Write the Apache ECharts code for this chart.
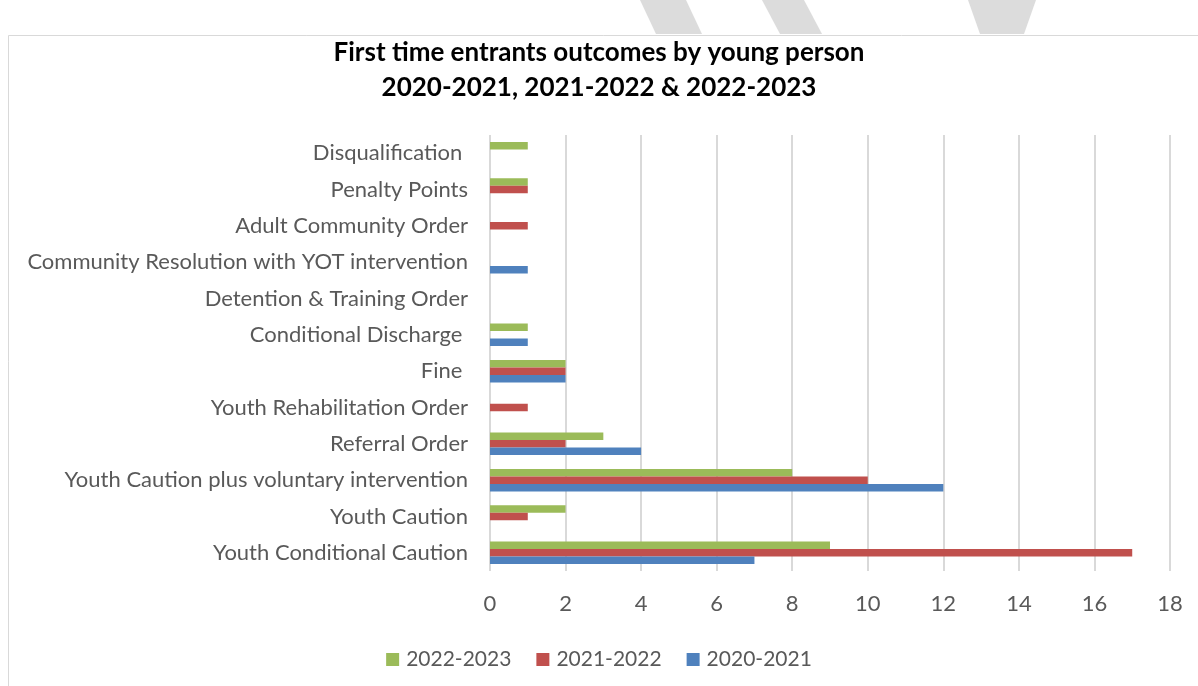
<!DOCTYPE html>
<html>
<head>
<meta charset="utf-8">
<script src="https://cdn.jsdelivr.net/npm/echarts@6/dist/echarts.min.js"></script>
<style>html,body{margin:0;padding:0;background:#fff;}#chart{width:1198px;height:686px;}</style>
</head>
<body>
<div id="chart"></div>
<script>
// categories listed bottom to top
var categories = [
  'Youth Conditional Caution',
  'Youth Caution',
  'Youth Caution plus voluntary intervention',
  'Referral Order',
  'Youth Rehabilitation Order',
  'Fine ',
  'Conditional Discharge ',
  'Detention & Training Order',
  'Community Resolution with YOT intervention',
  'Adult Community Order',
  'Penalty Points',
  'Disqualification '
];
var s2020 = [7, 0, 12, 4, 0, 2, 1, 0, 1, 0, 0, 0];
var s2021 = [17, 1, 10, 2, 1, 2, 0, 0, 0, 1, 1, 0];
var s2022 = [9, 2, 8, 3, 0, 2, 1, 0, 0, 0, 1, 1];
var xTicks = [0, 2, 4, 6, 8, 10, 12, 14, 16, 18];

var font = 'Lato';
var chart = echarts.init(document.getElementById('chart'));
chart.setOption({
  backgroundColor: '#fff',
  textStyle: { fontFamily: font },
  graphic: [
    { type: 'polygon', shape: { points: [[640,0],[686,0],[702,34],[656,34]] }, style: { fill: '#DCDCDC' }, silent: true },
    { type: 'polygon', shape: { points: [[762,0],[804,0],[822,34],[780,34]] }, style: { fill: '#DCDCDC' }, silent: true },
    { type: 'polygon', shape: { points: [[968,0],[1036,0],[1024,34],[980,34]] }, style: { fill: '#DCDCDC' }, silent: true },
    { type: 'rect', shape: { x: 8.5, y: 35.5, width: 1200, height: 700 }, style: { fill: 'none', stroke: '#D9D9D9', lineWidth: 1 }, silent: true }
  ],
  title: {
    text: 'First time entrants outcomes by young person\n2020-2021, 2021-2022 & 2022-2023',
    left: 'center',
    top: 30,
    textStyle: { fontFamily: font, fontSize: 26, fontWeight: 'bold', color: '#000', lineHeight: 35 }
  },
  legend: {
    data: ['2022-2023', '2021-2022', '2020-2021'],
    top: 644,
    left: 'center',
    itemWidth: 13,
    itemHeight: 13,
    itemGap: 25,
    icon: 'rect',
    textStyle: { fontFamily: font, fontSize: 21, color: '#595959', padding: [0, 0, 0, 2] }
  },
  grid: { left: 490, right: 28, top: 135, bottom: 115, containLabel: false },
  xAxis: {
    type: 'value',
    min: 0, max: 18, interval: 2,
    axisLine: { show: false },
    axisTick: { show: false },
    axisLabel: { fontFamily: font, fontSize: 22, color: '#595959', margin: 22 },
    splitLine: { show: true, lineStyle: { color: '#D9D9D9', width: 2 } }
  },
  yAxis: {
    type: 'category',
    data: categories,
    axisLine: { show: false },
    axisTick: { show: false },
    axisLabel: { fontFamily: font, fontSize: 22, color: '#595959', margin: 22 }
  },
  series: [
    { name: '2022-2023', type: 'bar', data: s2022, itemStyle: { color: '#9BBB59' }, barGap: '0%', barCategoryGap: '38%' },
    { name: '2021-2022', type: 'bar', data: s2021, itemStyle: { color: '#C0504D' }, barGap: '0%', barCategoryGap: '38%' },
    { name: '2020-2021', type: 'bar', data: s2020, itemStyle: { color: '#4F81BD' }, barGap: '0%', barCategoryGap: '38%' }
  ]
});
</script>
</body>
</html>
